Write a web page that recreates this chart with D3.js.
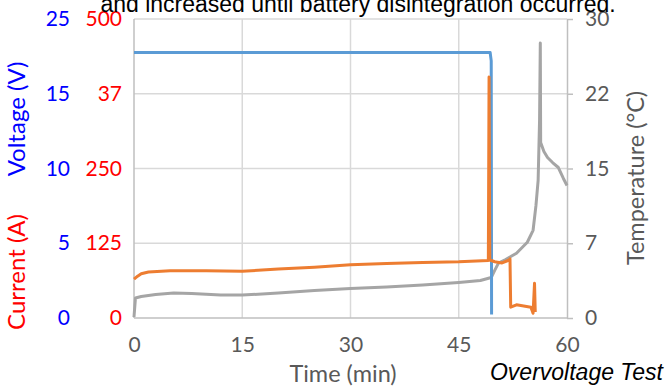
<!DOCTYPE html>
<html>
<head>
<meta charset="utf-8">
<script src="https://cdn.jsdelivr.net/npm/d3@7"></script>
<style>
  body { margin: 0; background: #fff; }
  svg text { font-family: Lato, "Liberation Sans", sans-serif; }
</style>
</head>
<body>
<div id="chart"></div>
<script>
// time axis
var timeTicks = [0, 15, 30, 45, 60];

// left axes (labels as printed on the original)
var voltTickValues = [0, 6.25, 12.5, 18.75, 25];
var voltTickLabels = ["0", "5", "10", "15", "25"];
var currTickValues = [0, 125, 250, 375, 500];
var currTickLabels = ["0", "125", "250", "37", "500"];
var tempTickValues = [0, 7.5, 15, 22.5, 30];
var tempTickLabels = ["0", "7", "15", "22", "30"];

// voltage (V)
var voltTime = [0, 49.35, 49.5, 49.55];
var voltValue = [22.2, 22.2, 21.5, 0.3];

// current (A)
var currTime = [0, 0.5, 1, 2, 5, 10, 15, 20, 25, 30, 35, 40, 45, 49.1, 49.2, 49.3,
  50, 51, 52, 52.1, 52.2, 53, 54, 55, 55.3, 55.5, 55.6];
var currValue = [65, 70, 74, 77, 79, 79, 78, 82, 85, 89, 91, 93, 94, 96, 403, 97,
  94, 92, 97, 99, 18, 22, 20, 18, 8, 58, 10];

// temperature (°C)
var tempTime = [0, 0.2, 1, 3, 5.5, 8, 12, 15, 20, 25, 30, 35, 40, 45, 48, 49.5, 50, 50.5,
  51.5, 53, 54.5, 55.3, 55.7, 56, 56.2, 56.3, 56.35, 56.8, 57.3, 58, 58.8, 59.5, 60];
var tempValue = [0.1, 2.0, 2.15, 2.36, 2.5, 2.46, 2.3, 2.3, 2.5, 2.76, 2.96, 3.1, 3.3, 3.56,
  3.76, 4.06, 4.8, 5.5, 5.87, 6.5, 7.6, 8.8, 11.3, 13.8, 19.9, 27.6, 17.6, 16.7, 16.1,
  15.6, 15.1, 14.0, 13.3];

var W = 665, H = 388;
var plotLeft = 134, plotRight = 567, plotTop = 19, plotBottom = 318;

var svg = d3.select("#chart").append("svg")
  .attr("width", W)
  .attr("height", H);

var x = d3.scaleLinear().domain([0, 60]).range([plotLeft, plotRight]);
var yV = d3.scaleLinear().domain([0, 25]).range([plotBottom, plotTop]);
var yA = d3.scaleLinear().domain([0, 500]).range([plotBottom, plotTop]);
var yT = d3.scaleLinear().domain([0, 30]).range([plotBottom, plotTop]);

// gridlines
svg.append("g")
  .selectAll("line")
  .data(currTickValues.slice(1))
  .enter().append("line")
    .attr("x1", plotLeft).attr("x2", plotRight)
    .attr("y1", function(d) { return yA(d); })
    .attr("y2", function(d) { return yA(d); })
    .attr("stroke", "#d9d9d9").attr("stroke-width", 1.5);
svg.append("g")
  .selectAll("line")
  .data(timeTicks.slice(1, 4))
  .enter().append("line")
    .attr("x1", function(d) { return x(d); })
    .attr("x2", function(d) { return x(d); })
    .attr("y1", plotTop).attr("y2", plotBottom)
    .attr("stroke", "#d9d9d9").attr("stroke-width", 1.5);

// axis frame lines
svg.append("line").attr("x1", plotLeft).attr("x2", plotLeft).attr("y1", plotTop).attr("y2", plotBottom)
  .attr("stroke", "#bfbfbf").attr("stroke-width", 1.5);
svg.append("line").attr("x1", plotLeft).attr("x2", plotRight).attr("y1", plotBottom).attr("y2", plotBottom)
  .attr("stroke", "#bfbfbf").attr("stroke-width", 1.5);

// voltage axis (blue)
var gV = svg.append("g")
  .attr("transform", "translate(72,0)")
  .call(d3.axisLeft(yV).tickValues(voltTickValues)
    .tickFormat(function(d, i) { return voltTickLabels[i]; })
    .tickSize(0).tickPadding(2));
gV.select(".domain").remove();
gV.selectAll("text").attr("fill", "#0000ff").style("font-size", "21px");

// current axis (red)
var gA = svg.append("g")
  .attr("transform", "translate(124,0)")
  .call(d3.axisLeft(yA).tickValues(currTickValues)
    .tickFormat(function(d, i) { return currTickLabels[i]; })
    .tickSize(0).tickPadding(2));
gA.select(".domain").remove();
gA.selectAll("text").attr("fill", "#ff0000").style("font-size", "21px");

// temperature axis (right)
var gT = svg.append("g")
  .attr("transform", "translate(" + plotRight + ",0)")
  .call(d3.axisRight(yT).tickValues(tempTickValues)
    .tickFormat(function(d, i) { return tempTickLabels[i]; })
    .tickSizeInner(6).tickSizeOuter(0).tickPadding(12));
gT.select(".domain").attr("stroke", "#bfbfbf").attr("stroke-width", 1.5);
gT.selectAll(".tick line").attr("stroke", "#bfbfbf").attr("stroke-width", 1.5);
gT.selectAll("text").attr("fill", "#595959").style("font-size", "21px");

// time axis
var gX = svg.append("g")
  .attr("transform", "translate(0," + plotBottom + ")")
  .call(d3.axisBottom(x).tickValues(timeTicks).tickSize(0).tickPadding(19));
gX.select(".domain").remove();
gX.selectAll("text").attr("fill", "#595959").style("font-size", "21px");

// series
function drawLine(times, values, yScale, color) {
  var pts = times.map(function(t, i) { return [t, values[i]]; });
  svg.append("path")
    .datum(pts)
    .attr("fill", "none")
    .attr("stroke", color)
    .attr("stroke-width", 3)
    .attr("stroke-linejoin", "round")
    .attr("d", d3.line()
      .x(function(d) { return x(d[0]); })
      .y(function(d) { return yScale(d[1]); }));
}
drawLine(tempTime, tempValue, yT, "#a5a5a5");
drawLine(voltTime, voltValue, yV, "#5b9bd5");
drawLine(currTime, currValue, yA, "#ed7d31");

// titles
svg.append("text")
  .attr("x", 358).attr("y", 12)
  .attr("text-anchor", "middle")
  .style("font-family", "'Liberation Sans', Arial, sans-serif")
  .style("font-size", "23px")
  .attr("fill", "#000")
  .text("and increased until battery disintegration occurred.");

svg.append("text")
  .attr("transform", "translate(25,119) rotate(-90)")
  .attr("text-anchor", "middle")
  .attr("fill", "#0000ff")
  .style("font-size", "24px")
  .text("Voltage (V)");

svg.append("text")
  .attr("transform", "translate(25,272) rotate(-90)")
  .attr("text-anchor", "middle")
  .attr("fill", "#ff0000")
  .style("font-size", "24px")
  .text("Current (A)");

svg.append("text")
  .attr("transform", "translate(644,178) rotate(-90)")
  .attr("text-anchor", "middle")
  .attr("fill", "#595959")
  .style("font-size", "23.5px")
  .text("Temperature (°C)");

svg.append("text")
  .attr("x", 343).attr("y", 382)
  .attr("text-anchor", "middle")
  .attr("fill", "#595959")
  .style("font-size", "23.5px")
  .text("Time (min)");

svg.append("text")
  .attr("x", 663).attr("y", 380)
  .attr("text-anchor", "end")
  .style("font-family", "'Liberation Sans', Arial, sans-serif")
  .style("font-style", "italic")
  .style("font-size", "23px")
  .attr("fill", "#000")
  .text("Overvoltage Test");
</script>
</body>
</html>
